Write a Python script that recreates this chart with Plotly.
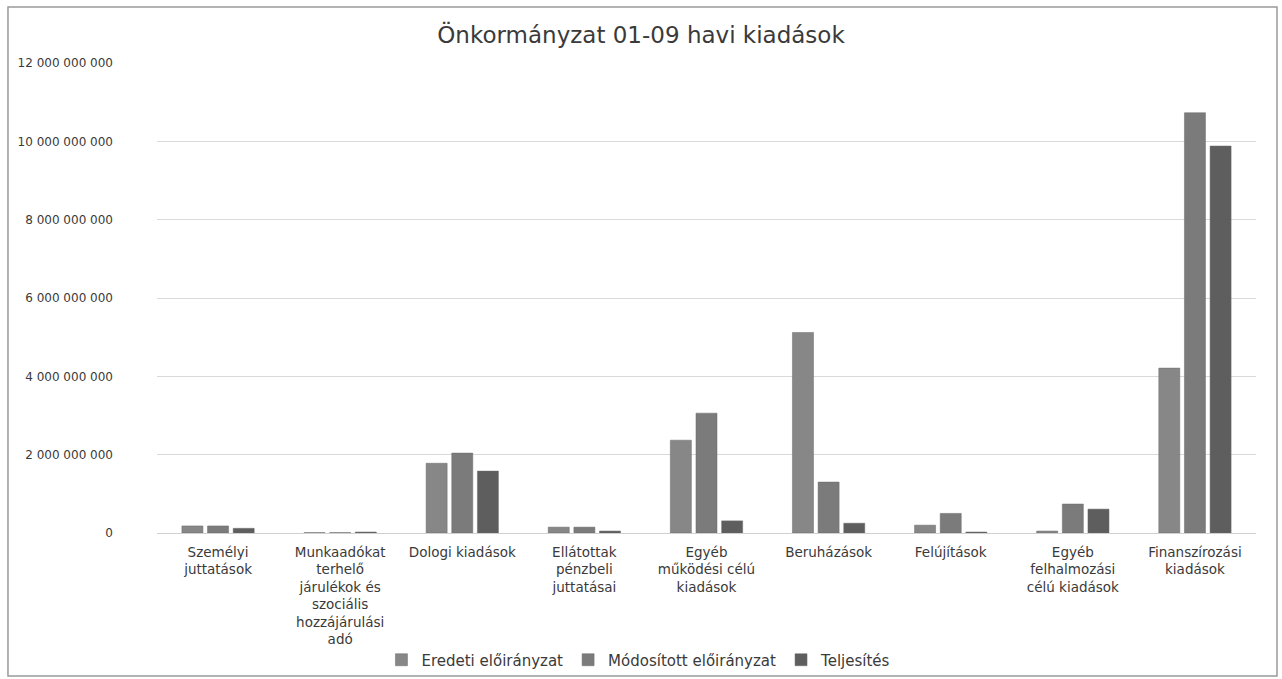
import plotly.graph_objects as go

categories = [
    "Személyi<br>juttatások",
    "Munkaadókat<br>terhelő<br>járulékok és<br>szociális<br>hozzájárulási<br>adó",
    "Dologi kiadások",
    "Ellátottak<br>pénzbeli<br>juttatásai",
    "Egyéb<br>működési célú<br>kiadások",
    "Beruházások",
    "Felújítások",
    "Egyéb<br>felhalmozási<br>célú kiadások",
    "Finanszírozási<br>kiadások",
]
eredeti = [180e6, 10e6, 1780e6, 150e6, 2370e6, 5120e6, 200e6, 50e6, 4210e6]
modositott = [180e6, 10e6, 2040e6, 150e6, 3060e6, 1300e6, 500e6, 740e6, 10730e6]
teljesites = [120e6, 25e6, 1580e6, 50e6, 310e6, 250e6, 25e6, 610e6, 9880e6]
series_names = ["Eredeti előirányzat", "Módosított előirányzat", "Teljesítés"]
tick_vals = [0, 2e9, 4e9, 6e9, 8e9, 10e9, 12e9]

colors = ["#878787", "#7b7b7b", "#5e5e5e"]
font_family = "DejaVu Sans, Verdana, sans-serif"
text_color = "#3a3a3a"

fig = go.Figure()
for name, vals, col in zip(series_names, [eredeti, modositott, teljesites], colors):
    fig.add_trace(go.Bar(x=categories, y=vals, name=name,
                         marker=dict(color=col, line=dict(color="#6a6a6a", width=0.5))))

fig.update_layout(
    width=1282, height=679,
    paper_bgcolor="white", plot_bgcolor="white",
    separators=", ",
    barmode="group", bargap=0.37, bargroupgap=0.18,
    margin=dict(l=157, r=26, t=63, b=146, autoexpand=False),
    title=dict(text="Önkormányzat 01-09 havi kiadások", x=0.5, xanchor="center",
               y=0.9485, yref="container", yanchor="middle",
               font=dict(family=font_family, size=23, color=text_color)),
    font=dict(family=font_family, size=12, color=text_color),
    xaxis=dict(showgrid=False, showline=False, ticks="", tickangle=0,
               ticklabelstandoff=9, automargin=False,
               tickfont=dict(size=13.5, color=text_color)),
    yaxis=dict(range=[0, 12e9], tickvals=tick_vals, tickformat=",d",
               showgrid=True, gridcolor="#d9d9d9", gridwidth=1,
               zeroline=True, zerolinecolor="#d0d0d0", zerolinewidth=1,
               ticks="", ticklabelstandoff=43, automargin=False,
               tickfont=dict(size=12, color=text_color)),
    legend=dict(orientation="h", xref="container", yref="container",
                x=0.4984, xanchor="center", y=0.028, yanchor="middle",
                bgcolor="rgba(0,0,0,0)",
                font=dict(size=15, color=text_color)),
    shapes=[dict(type="rect", xref="paper", yref="paper", x0=-0.1356, x1=1.0191,
                 y0=-0.3043, y1=1.1191, line=dict(color="#9a9a9a", width=1.5))],
)
fig.write_html(
    "out.html",
    config={"displayModeBar": False},
    post_script=(
        "document.documentElement.style.margin='0';"
        "document.documentElement.style.overflow='hidden';"
        "document.body.style.margin='0';"
        "document.body.style.overflow='hidden';"
    ),
)
